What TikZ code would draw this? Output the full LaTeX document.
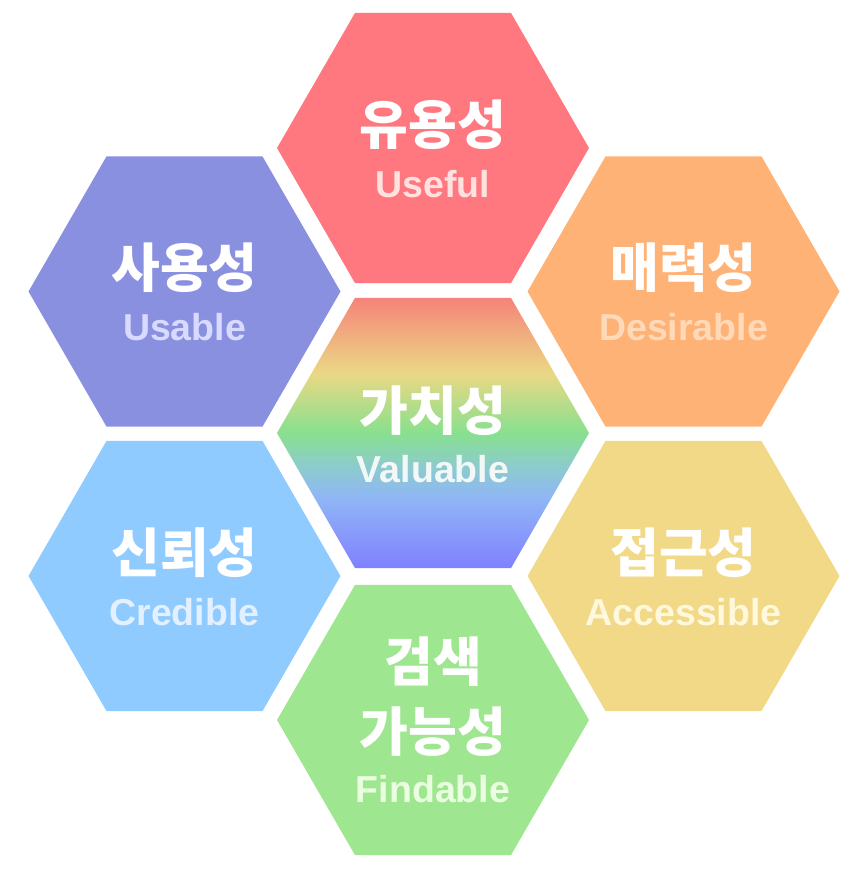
\documentclass[tikz,border=0pt]{standalone}
\usepackage{fontspec}
\setmainfont{Liberation Sans}
\newfontfamily\krfont{Noto Sans CJK KR}
\usetikzlibrary{shapes.geometric}
\definecolor{cUse}{HTML}{FF7880}
\definecolor{tUse}{HTML}{FFE2E0}
\definecolor{cUsa}{HTML}{8A90E0}
\definecolor{tUsa}{HTML}{D8DAFF}
\definecolor{cDes}{HTML}{FFB276}
\definecolor{tDes}{HTML}{FFD9B8}
\definecolor{cCred}{HTML}{8FCBFF}
\definecolor{tCred}{HTML}{E3F0FF}
\definecolor{cAcc}{HTML}{F2D987}
\definecolor{tAcc}{HTML}{FFF8DC}
\definecolor{cFind}{HTML}{9FE690}
\definecolor{tFind}{HTML}{EAFFE0}
\definecolor{tVal}{HTML}{F2F8F6}
\definecolor{vR}{HTML}{F5837A}
\definecolor{vO}{HTML}{F0AE7E}
\definecolor{vY}{HTML}{EAD885}
\definecolor{vG}{HTML}{88E08E}
\definecolor{vT}{HTML}{8CCCCC}
\definecolor{vBl}{HTML}{90B6F6}
\definecolor{vB}{HTML}{8080FF}
\pgfdeclareverticalshading{valshade}{100bp}{color(0bp)=(vB); color(25bp)=(vB); color(38bp)=(vBl); color(44bp)=(vT); color(50bp)=(vG); color(61bp)=(vY); color(68bp)=(vO); color(75bp)=(vR); color(100bp)=(vR)}
\tikzset{
  hexa/.style={regular polygon, regular polygon sides=6, minimum size=312pt, inner sep=0pt, outer sep=0pt, draw=none},
  kr/.style={font=\krfont\bfseries\fontsize{53}{60}\selectfont, text=white, inner sep=0pt, anchor=base},
  en/.style={font=\bfseries\fontsize{37.5}{42}\selectfont, inner sep=0pt, anchor=base}
}
\begin{document}
\begin{tikzpicture}[x=1pt,y=-1pt]
\useasboundingbox (0,0) rectangle (861,873);
% hexagons
\node[hexa, fill=cUse] (use) at (433,148) {};
\node[hexa, shading=valshade] (val) at (433,433) {};
\node[hexa, fill=cFind] (find) at (433,720) {};
\node[hexa, fill=cUsa] (usa) at (184.5,291.5) {};
\node[hexa, fill=cCred] (cred) at (184.5,576) {};
\node[hexa, fill=cDes] (des) at (683.5,291.5) {};
\node[hexa, fill=cAcc] (acc) at (683.5,576) {};
% labels
\node[kr] (useK) at ([yshift=4pt]use.center) {유용성};
\node[en, text=tUse] (useE) at ([yshift=-49pt]use.center) {Useful};
\node[kr] (valK) at ([yshift=3pt]val.center) {가치성};
\node[en, text=tVal] (valE) at ([yshift=-49pt]val.center) {Valuable};
\node[kr] (usaK) at ([yshift=4pt]usa.center) {사용성};
\node[en, text=tUsa] (usaE) at ([yshift=-49pt]usa.center) {Usable};
\node[kr] (desK) at ([yshift=4pt]des.center) {매력성};
\node[en, text=tDes] (desE) at ([yshift=-49pt]des.center) {Desirable};
\node[kr] (credK) at ([yshift=4pt]cred.center) {신뢰성};
\node[en, text=tCred] (credE) at ([yshift=-49pt]cred.center) {Credible};
\node[kr] (accK) at ([yshift=4pt]acc.center) {접근성};
\node[en, text=tAcc] (accE) at ([yshift=-49pt]acc.center) {Accessible};
\node[kr] (findK1) at ([yshift=39pt]find.center) {검색};
\node[kr] (findK2) at ([yshift=-31pt]find.center) {가능성};
\node[en, text=tFind] (findE) at ([yshift=-82pt]find.center) {Findable};
\end{tikzpicture}
\end{document}
